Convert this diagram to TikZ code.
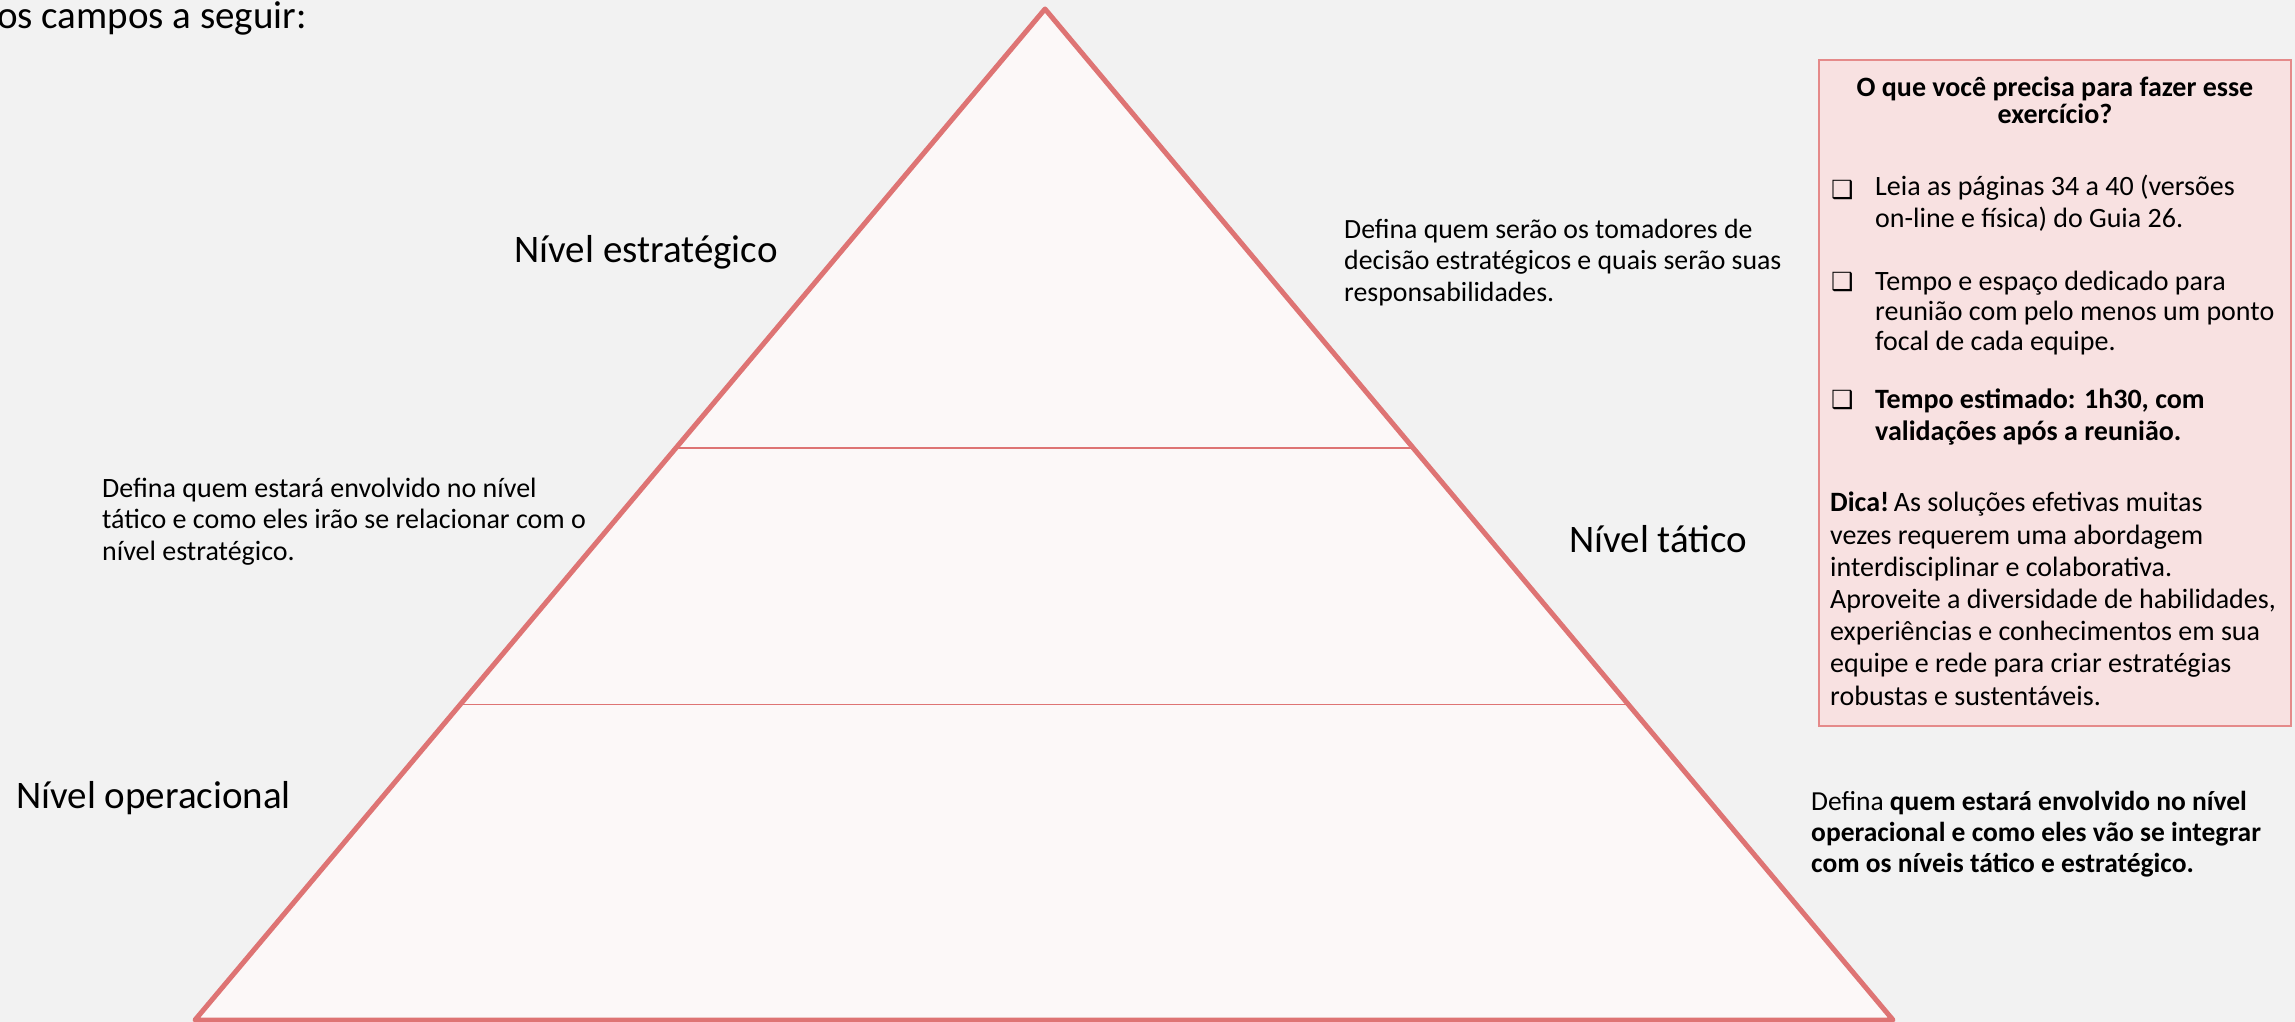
\documentclass[tikz,border=0pt]{standalone}
\usepackage{fontspec}
\setmainfont{Carlito}
\newfontfamily\ticksym{DejaVu Sans}
\usetikzlibrary{calc, positioning}

\definecolor{pagebg}{HTML}{F2F2F2}
\definecolor{pyrline}{HTML}{DE7474}
\definecolor{pyrfill}{HTML}{FCF8F8}
\definecolor{tipfill}{HTML}{F8E1E1}
\definecolor{tipline}{HTML}{E58A8A}

\begin{document}
\begin{tikzpicture}[x=1pt, y=-1pt,
level/.style={font=\fontsize{39}{44}\selectfont, inner sep=0pt},
hint/.style={font=\fontsize{28}{31.5}\selectfont, align=left, inner sep=0pt, anchor=base west},
tick/.style={font=\ticksym\fontsize{25}{28}\selectfont, inner sep=0pt, anchor=base west}]
%    page and clipping (anchor=base of a multi-line node = last line)
\fill[pagebg] (0,0) rectangle (2295,1022);
\clip (0,0) rectangle (2295,1022);

\node[font=\fontsize{39}{44}\selectfont, inner sep=0pt, anchor=base east] (intro) at (307,29) {os campos a seguir:};

% pyramid
\coordinate (apex) at (1045,9);
\coordinate (baseL) at (195,1020);
\coordinate (baseR) at (1893,1020);
\coordinate (stratL) at ($(apex)!0.434!(baseL)$);
\coordinate (stratR) at ($(apex)!0.434!(baseR)$);
\coordinate (tatL) at ($(apex)!0.688!(baseL)$);
\coordinate (tatR) at ($(apex)!0.688!(baseR)$);
\filldraw[fill=pyrfill, draw=pyrline, line width=5pt, line join=round] (apex) -- (baseR) -- (baseL) -- cycle;
\draw[pyrline, line width=1.8pt] (stratL) -- (stratR);
\draw[pyrline, line width=1.8pt] (tatL) -- (tatR);

% level names
\node[level, anchor=base] (estr) at (646,262) {Nível estratégico};
\node[level, anchor=base west] (tat) at (1569,552) {Nível tático};
\node[level, anchor=base west] (oper) at (16,808) {Nível operacional};

% hints
\node[hint, font=\fontsize{27.8}{31.5}\selectfont] (hintEstr) at (1344,301) {Defina quem serão os tomadores de\\decisão estratégicos e quais serão suas\\responsabilidades.};
\node[hint] (hintTat) at (102,560) {Defina quem estará envolvido no nível\\tático e como eles irão se relacionar com o\\nível estratégico.};
\node[hint, font=\fontsize{27.5}{31}\selectfont] (hintOper) at (1811,872) {Defina \textbf{quem estará envolvido no nível}\\\textbf{operacional e como eles vão se integrar}\\\textbf{com os níveis tático e estratégico.}};

% what you need
\node[draw=tipline, fill=tipfill, line width=1.5pt, minimum width=472, minimum height=666, inner sep=0pt] (tipbox) at (2055,393) {};
\node[hint, anchor=base, align=center, font=\bfseries\fontsize{28}{27}\selectfont] (tipTitle) at (2055,124) {O que você precisa para fazer esse\\exercício?};
\node[tick] (tick1) at (1831,198) {❑};
\node[hint] (need1) at (1875,227) {Leia as páginas 34 a 40 (versões\\on-line e física) do Guia 26.};
\node[tick] (tick2) at (1831,290) {❑};
\node[hint, font=\fontsize{28}{30}\selectfont] (need2) at (1875,350) {Tempo e espaço dedicado para\\reunião com pelo menos um ponto\\focal de cada equipe.};
\node[tick] (tick3) at (1831,408) {❑};
\node[hint, font=\bfseries\fontsize{28}{31.5}\selectfont] (need3) at (1875,440) {Tempo estimado: 1h30, com\\validações após a reunião.};
\node[hint, font=\fontsize{28}{32.2}\selectfont] (dica) at (1830,705) {\textbf{Dica!}\,As soluções efetivas muitas\\vezes requerem uma abordagem\\interdisciplinar e colaborativa.\\Aproveite a diversidade de habilidades,\\experiências e conhecimentos em sua\\equipe e rede para criar estratégias\\robustas e sustentáveis.};

\end{tikzpicture}
\end{document}
